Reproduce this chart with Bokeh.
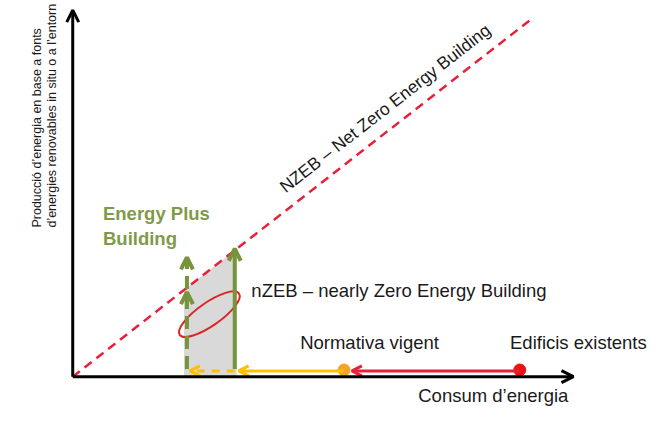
from bokeh.plotting import figure
from bokeh.models import Range1d, Arrow, OpenHead
from bokeh.core.properties import value
from bokeh.embed import file_html
from bokeh.resources import INLINE

FONT = value("Liberation Sans")

# --- conceptual values (consumption on x, renewable production on y) ---
axis_x_max = 513
axis_y_max = 381
nzeb_line_x = [0, 469]
nzeb_line_y = [0, 371]
nzeb_slope = nzeb_line_y[1] / nzeb_line_x[1]

consum_existents = 458
consum_normativa = 278
consum_nzeb = 166
consum_plus = 117
consum_band = [114, 168]
level_markers = 6

prod_nzeb_tip = 133
prod_plus_tip = 124
prod_plus_mid = 88
prod_start = 8

ellipse_center = (140, 65)
ellipse_size = (74, 24)

labels_text = ["Normativa vigent", "Edificis existents", "Consum d\u2019energia",
               "nZEB \u2013 nearly Zero Energy Building"]
labels_x = [233, 448, 354, 183]
labels_y = [36, 36, -20, 90]

plus_text = ["Energy Plus", "Building"]
plus_x = [31, 31]
plus_y = [170, 144]

ylabel_text = ["Producci\u00f3 d\u2019energia en base a fonts",
               "d\u2019energies renovables in situ o a l\u2019entorn"]
ylabel_x = [-37, -21]
ylabel_y = [155, 155]

diag_text = "NZEB \u2013 Net Zero Energy Building"
diag_pos = (320, 279)

GREEN = "#77933C"
RED = "#E8203A"
YELLOW = "#FFC000"
ORANGE = "#F4A428"

p = figure(width=652, height=407, output_backend="svg", toolbar_location=None,
           x_range=Range1d(-74, 594), y_range=Range1d(-32, 391),
           x_axis_type=None, y_axis_type=None, min_border=0)
p.outline_line_color = None
p.xgrid.visible = False
p.ygrid.visible = False

# grey band (area between consum_band, under NZEB line)
bx0, bx1 = consum_band
p.patch([bx0, bx1, bx1, bx0], [0, 0, bx1 * nzeb_slope, bx0 * nzeb_slope],
        fill_color="#D9D9D9", line_color=None)

# NZEB diagonal
p.line(nzeb_line_x, nzeb_line_y, line_color=RED, line_width=2.5, line_dash="9 6")

# ellipse
p.ellipse(x=[ellipse_center[0]], y=[ellipse_center[1]], width=[ellipse_size[0]],
          height=[ellipse_size[1]], angle=[0.61], fill_color=None,
          line_color="#E02424", line_width=2)

# green arrows
p.add_layout(Arrow(x_start=consum_nzeb, y_start=prod_start, x_end=consum_nzeb, y_end=prod_nzeb_tip,
                   line_color=GREEN, line_width=4,
                   end=OpenHead(size=12, line_color=GREEN, line_width=4)))
p.add_layout(Arrow(x_start=consum_plus, y_start=prod_start, x_end=consum_plus, y_end=prod_plus_tip,
                   line_color=GREEN, line_width=4, line_dash="13 7",
                   end=OpenHead(size=12, line_color=GREEN, line_width=4)))
p.add_layout(Arrow(x_start=consum_plus, y_start=prod_plus_mid - 6, x_end=consum_plus, y_end=prod_plus_mid,
                   line_alpha=0,
                   end=OpenHead(size=12, line_color=GREEN, line_width=4)))

# horizontal arrows
p.add_layout(Arrow(x_start=consum_existents, y_start=level_markers, x_end=consum_normativa + 8,
                   y_end=level_markers, line_color=RED, line_width=3,
                   end=OpenHead(size=10, line_color=RED, line_width=3)))
p.add_layout(Arrow(x_start=consum_normativa, y_start=level_markers, x_end=consum_nzeb + 4,
                   y_end=level_markers, line_color=YELLOW, line_width=3,
                   end=OpenHead(size=10, line_color=YELLOW, line_width=3)))
p.add_layout(Arrow(x_start=consum_nzeb, y_start=level_markers, x_end=consum_plus + 3,
                   y_end=level_markers, line_color=YELLOW, line_width=3, line_dash="8 7",
                   end=OpenHead(size=10, line_color=YELLOW, line_width=3)))

# points
p.scatter([consum_normativa], [level_markers + 1], size=12, color=ORANGE)
p.scatter([consum_existents], [level_markers + 1], size=12, color="#EE1111")

# axes
p.add_layout(Arrow(x_start=0, y_start=0, x_end=0, y_end=axis_y_max, line_color="black",
                   line_width=3, end=OpenHead(size=12, line_color="black", line_width=3)))
p.add_layout(Arrow(x_start=0, y_start=0, x_end=axis_x_max, y_end=0, line_color="black",
                   line_width=3, end=OpenHead(size=12, line_color="black", line_width=3)))

# texts
p.text(x=labels_x, y=labels_y, text=labels_text, text_font=FONT,
       text_font_size=value("18.5px"), text_color="#1a1a1a",
       text_baseline="middle", text_align="left")
p.text(x=plus_x, y=plus_y, text=plus_text, text_font=FONT,
       text_font_size=value("18.5px"), text_font_style="bold", text_color="#7F9A4A",
       text_baseline="middle", text_align="left")
p.text(x=ylabel_x, y=ylabel_y, text=ylabel_text, text_font=FONT,
       text_font_size=value("12.5px"), text_color="#1a1a1a", angle=1.5708,
       text_baseline="middle", text_align="left")
p.text(x=[diag_pos[0]], y=[diag_pos[1]], text=[diag_text], text_font=FONT,
       text_font_size=value("17.5px"), text_color="#1a1a1a", angle=0.663,
       text_baseline="middle", text_align="center")

open("out.html", "w").write(file_html(p, INLINE))
